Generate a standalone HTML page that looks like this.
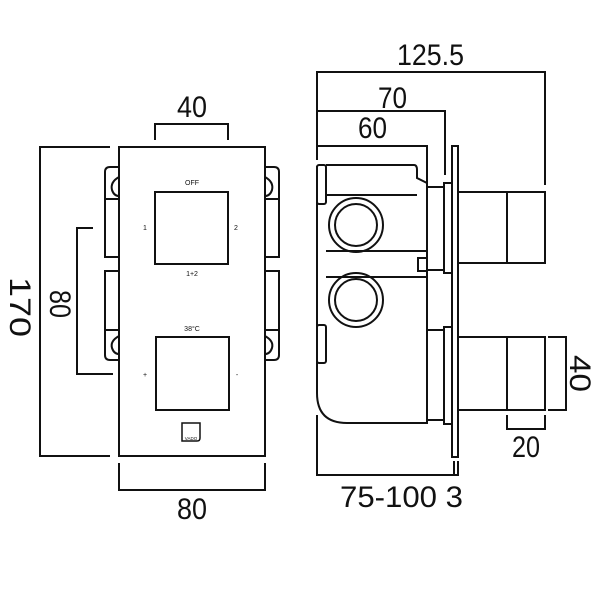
<!DOCTYPE html>
<html><head><style>body{margin:0;background:#fff}svg{display:block}</style></head><body>
<svg width="600" height="600" viewBox="0 0 600 600" xmlns="http://www.w3.org/2000/svg" font-family="Liberation Sans Narrow, Liberation Sans, sans-serif">
<g fill="none" stroke="#111" stroke-width="2">
<polyline points="155,140 155,124 228,124 228,140"/>
<polyline points="110,147 40,147 40,456 110,456"/>
<polyline points="93,228 77,228 77,374 113,374"/>
<polyline points="119,463 119,490 265,490 265,463"/>
<rect x="119" y="147" width="146" height="309"/>
<rect x="155" y="192" width="73" height="72"/>
<rect x="156" y="337" width="73" height="73"/>
<path d="M182,423 H200 V438 Q200,441 197,441 H182 Z" stroke-width="1.5"/>
<path d="M119,167 H110 Q105,167 105,172 V257 H119"/>
<path d="M105,199 H119"/>
<path d="M119,177 Q110,182 112,190 Q114,196 119,196"/>
<path d="M119,271 H105 V355 Q105,360 110,360 H119"/>
<path d="M105,330 H119"/>
<path d="M119,336 Q110,341 112,348 Q114,354 119,354"/>
<path d="M265,167 H274 Q279,167 279,172 V257 H265"/>
<path d="M279,199 H265"/>
<path d="M265,177 Q274,182 272,190 Q270,196 265,196"/>
<path d="M265,271 H279 V355 Q279,360 274,360 H265"/>
<path d="M279,330 H265"/>
<path d="M265,336 Q274,341 272,348 Q270,354 265,354"/>
<polyline points="317,160 317,72 545,72 545,185"/>
<polyline points="317,111 445,111 445,175"/>
<polyline points="317,146 427,146 427,172"/>
<path d="M317,166 V393 Q317,423 347,423 H427 V165"/>
<path d="M326,165 H414 Q417,165 417,170 V178 L427,183"/>
<path d="M326,195 H417"/>
<rect x="317" y="165" width="9" height="39" rx="2"/>
<rect x="317" y="325" width="9" height="38" rx="2"/>
<path d="M326,251 H427 M326,277 H427"/>
<rect x="418" y="258" width="9" height="13"/>
<circle cx="356" cy="225" r="27"/><circle cx="356" cy="225" r="21"/>
<circle cx="356" cy="300" r="27"/><circle cx="356" cy="300" r="21"/>
<rect x="427" y="187" width="17" height="83"/>
<rect x="444" y="183" width="8" height="90"/>
<rect x="427" y="330" width="17" height="90"/>
<rect x="444" y="327" width="8" height="97"/>
<rect x="452" y="146" width="6" height="311"/>
<rect x="458" y="192" width="87" height="71"/>
<path d="M507,192 V263"/>
<rect x="458" y="337" width="87" height="73"/>
<path d="M507,337 V410"/>
<polyline points="548,337 566,337 566,410 548,410"/>
<polyline points="507,415 507,429 545,429 545,415"/>
<polyline points="317,415 317,475 458,475 458,461"/>
<path d="M454,461 V475"/>
</g>
<g fill="#111" font-size="30" lengthAdjust="spacingAndGlyphs">
<text x="177" y="117" textLength="30" lengthAdjust="spacingAndGlyphs">40</text>
<text x="177" y="519" textLength="30" lengthAdjust="spacingAndGlyphs">80</text>
<text x="397" y="65" textLength="67" lengthAdjust="spacingAndGlyphs">125.5</text>
<text x="378" y="108" textLength="29" lengthAdjust="spacingAndGlyphs">70</text>
<text x="358" y="138" textLength="29" lengthAdjust="spacingAndGlyphs">60</text>
<text x="512" y="457" textLength="28" lengthAdjust="spacingAndGlyphs">20</text>
<text x="340" y="507" textLength="123" lengthAdjust="spacingAndGlyphs">75-100 3</text>
<text transform="translate(10,277) rotate(90)" textLength="60" lengthAdjust="spacingAndGlyphs">170</text>
<text transform="translate(50,290) rotate(90)" textLength="28" lengthAdjust="spacingAndGlyphs">80</text>
<text transform="translate(570,355) rotate(90)" textLength="37" lengthAdjust="spacingAndGlyphs">40</text>
</g>
<g fill="#111" font-size="7" text-anchor="middle" font-family="Liberation Sans, sans-serif">
<text x="192" y="185">OFF</text>
<text x="145" y="230">1</text>
<text x="236" y="230">2</text>
<text x="192" y="276">1+2</text>
<text x="192" y="331">38°C</text>
<text x="145" y="377">+</text>
<text x="237" y="377">-</text>
<text x="191" y="440" font-size="4.5">VADO</text>
</g>
</svg>
</body></html>
